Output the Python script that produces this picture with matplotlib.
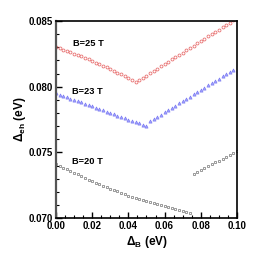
import numpy as np
import matplotlib
matplotlib.use("Agg")
import matplotlib.pyplot as plt
from matplotlib.ticker import MultipleLocator

# gap energy Delta_B grid [eV]
delta_b = [0.000, 0.002, 0.004, 0.006, 0.008, 0.010, 0.012, 0.014, 0.016, 0.018,
           0.020, 0.022, 0.024, 0.026, 0.028, 0.030, 0.032, 0.034, 0.036, 0.038,
           0.040, 0.042, 0.044, 0.046, 0.048, 0.050, 0.052, 0.054, 0.056, 0.058,
           0.060, 0.062, 0.064, 0.066, 0.068, 0.070, 0.072, 0.074, 0.076, 0.078,
           0.080, 0.082, 0.084, 0.086, 0.088, 0.090, 0.092, 0.094, 0.096, 0.098,
           0.100]

nan = np.nan

# Delta_eh [eV] for B = 25 T
eh_25 = [0.08300, 0.08291, 0.08281, 0.08272, 0.08262, 0.08252, 0.08241, 0.08230, 0.08219, 0.08208,
         0.08196, 0.08184, 0.08172, 0.08159, 0.08147, 0.08134, 0.08120, 0.08106, 0.08093, 0.08078,
         0.08064, 0.08049, 0.08034, 0.08050, 0.08068, 0.08085, 0.08103, 0.08120, 0.08138, 0.08155,
         0.08173, 0.08190, 0.08208, 0.08225, 0.08243, 0.08260, 0.08278, 0.08295, 0.08313, 0.08330,
         0.08348, 0.08365, 0.08383, 0.08400, 0.08418, 0.08435, 0.08453, 0.08470, 0.08488, 0.08505,
         nan]

# Delta_eh [eV] for B = 23 T
eh_23 = [0.07950, 0.07940, 0.07930, 0.07920, 0.07910, 0.07900, 0.07890, 0.07880, 0.07870, 0.07860,
         0.07850, 0.07840, 0.07830, 0.07820, 0.07810, 0.07800, 0.07790, 0.07780, 0.07770, 0.07760,
         0.07750, 0.07740, 0.07730, 0.07720, 0.07710, 0.07700, 0.07735, 0.07752, 0.07769, 0.07787,
         0.07804, 0.07821, 0.07838, 0.07855, 0.07873, 0.07890, 0.07907, 0.07924, 0.07941, 0.07959,
         0.07976, 0.07993, 0.08010, 0.08027, 0.08045, 0.08062, 0.08079, 0.08096, 0.08113, 0.08130,
         nan]

# Delta_eh [eV] for B = 20 T
eh_20 = [0.07410, 0.07397, 0.07384, 0.07371, 0.07358, 0.07345, 0.07332, 0.07319, 0.07306, 0.07293,
         0.07280, 0.07269, 0.07258, 0.07247, 0.07236, 0.07225, 0.07214, 0.07203, 0.07192, 0.07181,
         0.07170, 0.07162, 0.07154, 0.07146, 0.07138, 0.07130, 0.07122, 0.07114, 0.07106, 0.07098,
         0.07090, 0.07083, 0.07076, 0.07069, 0.07062, 0.07055, 0.07048, 0.07041, 0.07333, 0.07348,
         0.07363, 0.07378, 0.07393, 0.07408, 0.07423, 0.07438, 0.07453, 0.07468, 0.07483, 0.07498,
         0.07513]

labels = ["B=25 T", "B=23 T", "B=20 T"]

plt.rcParams['font.family'] = ['Liberation Sans', 'DejaVu Sans']
plt.rcParams['font.weight'] = 'bold'
plt.rcParams['mathtext.default'] = 'regular'

fig = plt.figure(figsize=(2.59, 2.59), dpi=100)
ax = fig.add_axes([0.216, 0.158, 0.699, 0.761])

# --- curves (markers only)
ax.plot(delta_b, eh_25, linestyle='none', marker='o', markersize=2.1,
        markerfacecolor='none', markeredgecolor='#e87272', markeredgewidth=0.6)
ax.plot(delta_b, eh_23, linestyle='none', marker='^', markersize=2.3,
        markerfacecolor='#a0a0ff', markeredgecolor='#7878f0', markeredgewidth=0.45)
ax.plot(delta_b, eh_20, linestyle='none', marker='s', markersize=1.8,
        markerfacecolor='none', markeredgecolor='#808080', markeredgewidth=0.55)

# --- field labels
ax.text(0.0095, 0.08332, labels[0], fontsize=6.7, fontweight='bold', va='center')
ax.text(0.009, 0.07960, labels[1], fontsize=6.7, fontweight='bold', va='center')
ax.text(0.009, 0.07434, labels[2], fontsize=6.7, fontweight='bold', va='center')

# --- axes
ax.set_xlim(0.0, 0.1)
ax.set_ylim(0.070, 0.085)
ax.xaxis.set_major_locator(MultipleLocator(0.02))
ax.xaxis.set_minor_locator(MultipleLocator(0.005))
ax.yaxis.set_major_locator(MultipleLocator(0.005))
ax.yaxis.set_minor_locator(MultipleLocator(0.001))
ax.xaxis.set_major_formatter(plt.FormatStrFormatter('%.2f'))
ax.yaxis.set_major_formatter(plt.FormatStrFormatter('%.3f'))
ax.tick_params(which='both', direction='in', top=False, right=False, labelsize=7)
ax.tick_params(which='major', length=4, width=1.0, pad=2)
ax.tick_params(which='minor', length=2, width=0.8)
for lab in ax.get_xticklabels() + ax.get_yticklabels():
    lab.set_fontweight('bold')

ax.spines['left'].set_linewidth(1.6)
ax.spines['left'].set_color('#555555')
ax.spines['bottom'].set_linewidth(1.2)
ax.spines['top'].set_linewidth(1.2)
ax.spines['right'].set_linewidth(1.2)

ax.set_xlabel("\u0394$_{B}$ (eV)", fontsize=8.5, fontweight='bold', labelpad=2)
ax.set_ylabel("\u0394$_{eh}$ (eV)", fontsize=8.5, fontweight='bold', labelpad=1)

fig.savefig("out.png", dpi=100)
